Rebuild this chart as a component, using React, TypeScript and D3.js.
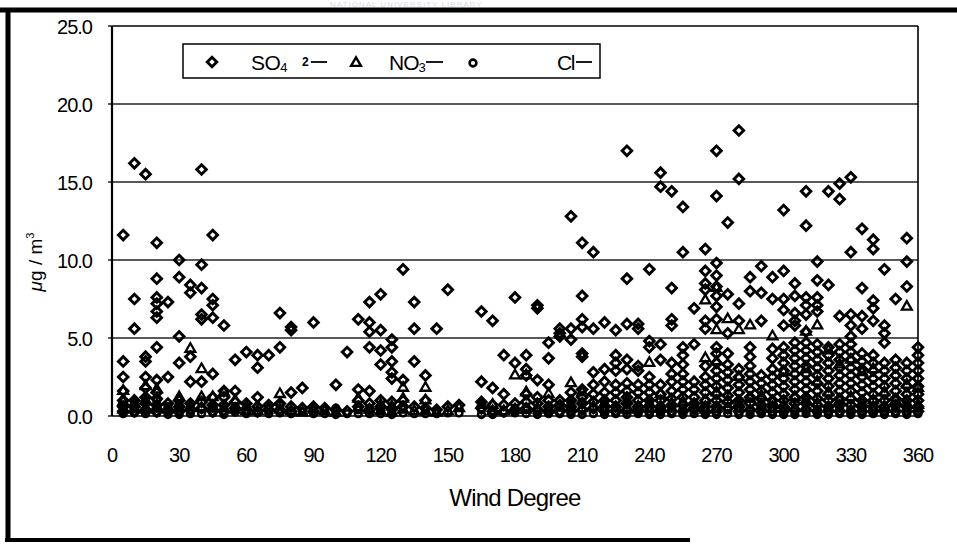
import React from 'react'
import * as d3 from 'd3'

// wind degree -> concentrations (ug/m3)
const so4Data: [number, number[]][] = [
    [5, [11.6, 3.5, 2.5, 1.6, 1.0, 0.6, 0.3]],
    [10, [16.2, 7.5, 5.6, 1.0, 0.6, 0.3]],
    [15, [15.5, 3.8, 3.5, 2.5, 1.8, 1.2, 0.8, 0.4]],
    [20, [11.1, 8.8, 7.6, 7.2, 6.7, 6.3, 4.4, 2.3, 1.5, 1.1, 0.7, 0.3]],
    [25, [7.3, 2.5, 0.8, 0.4]],
    [30, [10.0, 8.9, 5.1, 3.4, 1.0, 0.6, 0.3]],
    [35, [8.4, 7.9, 3.8, 2.2, 0.8, 0.4]],
    [40, [15.8, 9.7, 8.2, 6.5, 6.2, 2.2, 0.9, 0.5]],
    [45, [11.6, 7.5, 7.1, 6.3, 2.7, 1.2, 0.7, 0.3]],
    [50, [5.8, 1.6, 1.2, 0.7, 0.3]],
    [55, [3.6, 1.6, 0.9, 0.5]],
    [60, [4.1, 0.8, 0.4]],
    [65, [3.9, 3.1, 1.2, 0.6, 0.3]],
    [70, [3.9, 0.7, 0.4]],
    [75, [6.6, 4.4, 0.8, 0.4]],
    [80, [5.7, 5.5, 1.5, 0.6, 0.3]],
    [85, [1.8, 0.5]],
    [90, [6.0, 0.6, 0.3]],
    [95, [0.5]],
    [100, [2.0, 0.4]],
    [105, [4.1, 0.3]],
    [110, [6.2, 1.7, 1.0, 0.6]],
    [115, [7.3, 6.0, 5.4, 4.4, 1.6, 0.8, 0.4]],
    [120, [7.8, 5.5, 4.2, 3.3, 1.0, 0.6]],
    [125, [4.9, 4.4, 3.5, 2.8, 2.4, 0.9, 0.5]],
    [130, [9.4, 2.3, 1.0, 0.6]],
    [135, [7.3, 5.6, 3.5, 0.6]],
    [140, [2.6, 1.0, 0.5]],
    [145, [5.6, 0.4]],
    [150, [8.1, 0.6]],
    [155, [0.7]],
    [165, [6.7, 2.2, 0.9, 0.5]],
    [170, [6.1, 1.8, 0.7, 0.3]],
    [175, [3.9, 1.4, 0.7, 0.3]],
    [180, [7.6, 3.4, 0.8, 0.4]],
    [185, [3.9, 3.0, 2.6, 1.4, 0.9, 0.5]],
    [190, [7.1, 6.9, 2.3, 1.2, 0.8, 0.4]],
    [195, [4.7, 3.7, 2.0, 1.0, 0.6, 0.3]],
    [200, [5.6, 5.3, 5.1, 1.0, 0.7, 0.3]],
    [205, [12.8, 5.6, 4.9, 1.5, 1.0, 0.6, 0.3]],
    [210, [11.1, 7.7, 6.2, 5.7, 4.0, 3.8, 1.7, 1.2, 0.8, 0.4]],
    [215, [10.5, 5.6, 2.8, 2.0, 1.4, 0.9, 0.5]],
    [220, [6.0, 3.0, 2.2, 1.5, 1.0, 0.6, 0.3]],
    [225, [5.5, 3.9, 3.4, 2.9, 2.0, 1.5, 1.0, 0.6, 0.3]],
    [230, [17.0, 8.8, 5.9, 3.6, 3.0, 2.1, 1.6, 1.2, 0.8, 0.4]],
    [235, [5.9, 5.6, 3.2, 2.9, 2.0, 1.5, 1.0, 0.6, 0.3]],
    [240, [9.4, 4.8, 4.4, 2.5, 2.0, 1.5, 1.0, 0.6, 0.3]],
    [245, [15.6, 14.7, 4.6, 3.6, 2.0, 1.4, 1.0, 0.6, 0.3]],
    [250, [14.4, 8.2, 6.2, 5.8, 3.4, 2.7, 2.2, 1.6, 1.1, 0.7, 0.3]],
    [255, [13.4, 10.5, 4.4, 3.9, 3.3, 2.7, 2.2, 1.7, 1.2, 0.7, 0.3]],
    [260, [6.9, 4.6, 2.2, 1.7, 1.2, 0.8, 0.4]],
    [265, [10.7, 9.3, 8.5, 8.1, 6.1, 5.6, 3.2, 2.5, 2.0, 1.5, 1.0, 0.6, 0.3]],
    [270, [17.0, 14.1, 9.8, 9.0, 8.3, 7.7, 7.0, 6.2, 4.4, 4.0, 3.4, 2.9, 2.4, 1.9, 1.4, 1.0, 0.6, 0.3]],
    [275, [12.4, 7.8, 5.3, 4.0, 3.3, 2.8, 2.3, 1.8, 1.3, 0.9, 0.5]],
    [280, [18.3, 15.2, 7.2, 6.1, 3.0, 2.5, 2.0, 1.5, 1.0, 0.6, 0.3]],
    [285, [8.9, 8.0, 4.4, 3.8, 3.2, 2.7, 2.2, 1.7, 1.2, 0.8, 0.4]],
    [290, [9.6, 7.9, 6.1, 2.6, 2.1, 1.6, 1.1, 0.7, 0.3]],
    [295, [8.9, 7.5, 4.3, 3.7, 3.0, 2.5, 2.0, 1.5, 1.0, 0.6, 0.3]],
    [300, [13.2, 9.3, 7.5, 6.8, 5.8, 4.4, 3.9, 3.4, 2.9, 2.4, 1.9, 1.4, 1.0, 0.6, 0.3]],
    [305, [8.5, 7.7, 6.6, 6.1, 5.8, 4.7, 4.2, 3.7, 3.2, 2.7, 2.2, 1.7, 1.2, 0.8, 0.4]],
    [310, [14.4, 12.2, 7.6, 7.1, 6.5, 5.4, 4.7, 4.2, 3.7, 3.2, 2.7, 2.2, 1.7, 1.2, 0.8, 0.4]],
    [315, [9.9, 8.7, 7.6, 7.1, 6.7, 4.6, 4.1, 3.6, 3.1, 2.6, 2.1, 1.6, 1.1, 0.7, 0.3]],
    [320, [14.4, 8.4, 4.4, 3.9, 3.4, 2.9, 2.4, 1.9, 1.4, 1.0, 0.6, 0.3]],
    [325, [14.9, 13.9, 6.4, 4.6, 4.1, 3.6, 3.1, 2.6, 2.1, 1.6, 1.1, 0.7, 0.3]],
    [330, [15.3, 10.5, 6.5, 5.8, 5.1, 4.6, 4.1, 3.6, 3.1, 2.6, 2.1, 1.6, 1.1, 0.7, 0.3]],
    [335, [12.0, 8.2, 6.4, 5.6, 4.0, 3.5, 3.0, 2.5, 2.0, 1.5, 1.0, 0.6, 0.3]],
    [340, [11.3, 10.7, 7.4, 6.9, 6.1, 3.9, 3.4, 2.9, 2.4, 1.9, 1.4, 1.0, 0.6, 0.3]],
    [345, [9.4, 5.8, 5.3, 4.7, 3.4, 2.9, 2.4, 1.9, 1.4, 1.0, 0.6, 0.3]],
    [350, [7.5, 3.6, 3.1, 2.6, 2.1, 1.6, 1.1, 0.7, 0.3]],
    [355, [11.4, 9.9, 8.3, 3.4, 2.9, 2.4, 1.9, 1.4, 1.0, 0.6, 0.3]],
    [360, [4.4, 3.9, 3.4, 2.9, 2.4, 1.9, 1.4, 1.0, 0.6, 0.3]],
]

const no3Data: [number, number[]][] = [
    [5, [1.6, 0.9, 0.4]], [10, [0.8]], [15, [1.9, 1.0, 0.4]], [20, [1.7, 0.6]],
    [25, [0.4]], [30, [1.2, 0.5]], [35, [4.3, 0.6]], [40, [3.0, 1.2, 0.5]],
    [45, [1.2, 0.6]], [50, [1.5, 0.5]], [55, [1.0, 0.4]], [60, [0.6, 0.3]],
    [65, [0.3]], [70, [0.5]], [75, [1.4, 0.4]], [80, [0.3]], [85, [0.2]],
    [90, [0.4]], [95, [0.3]], [100, [0.2]], [110, [1.1, 0.5]], [115, [0.4]],
    [120, [0.7, 0.3]], [125, [0.6, 0.2]], [130, [1.8, 1.1, 0.4]], [135, [0.3]],
    [140, [1.8, 1.0, 0.3]], [145, [0.2]], [150, [0.3]], [155, [0.5]],
    [165, [0.7]], [170, [0.7, 0.3]], [175, [0.3]], [180, [2.6, 0.4]],
    [185, [2.6, 1.5, 0.4]], [190, [0.5]], [195, [1.4, 0.4]], [200, [0.6]],
    [205, [2.1, 0.5]], [210, [1.5, 0.5]], [215, [0.6]], [220, [0.8]],
    [225, [0.5]], [230, [1.0, 0.4]], [235, [0.6]], [240, [3.4, 0.8]],
    [245, [1.4, 0.6]], [250, [0.8]], [255, [0.9]], [260, [0.7]],
    [265, [7.4, 3.7, 1.0, 0.4]], [270, [8.2, 5.5, 3.5, 1.5, 0.5]],
    [275, [6.2, 1.0]], [280, [5.5, 2.5, 0.8]], [285, [5.8, 1.1]], [290, [1.3, 0.6]],
    [295, [5.1, 0.9]], [300, [2.8, 0.7]], [305, [1.2, 0.5]], [310, [5.4, 3.0, 1.0]],
    [315, [5.8, 2.2, 0.8]], [320, [4.2, 1.5, 0.5]], [325, [3.3, 1.0]],
    [330, [3.6, 1.2]], [335, [2.8, 0.8]], [340, [3.0, 1.0]], [345, [1.5, 0.6]],
    [350, [1.0]], [355, [7.0, 2.0, 0.8]], [360, [1.8, 0.7]],
]

const clData: [number, number[]][] = [
    [5, [0.7, 0.4, 0.15]], [10, [0.5, 0.2]], [15, [0.8, 0.4, 0.15]], [20, [1.0, 0.5, 0.2]],
    [25, [0.6, 0.3, 0.1]], [30, [0.7, 0.3, 0.1]], [35, [0.4, 0.15]], [40, [0.5, 0.15]],
    [45, [0.5, 0.2]], [50, [0.3, 0.1]], [55, [0.6, 0.25]], [60, [0.15]], [65, [0.2]],
    [70, [0.15]], [75, [0.7, 0.2]], [80, [0.15]], [85, [0.3]], [90, [0.15]],
    [95, [0.5, 0.15]], [100, [0.5, 0.1]], [105, [0.15]], [110, [0.4, 0.15]],
    [115, [0.5, 0.15]], [120, [0.4, 0.15]], [125, [0.3, 0.1]], [130, [0.6, 0.2]],
    [135, [0.15]], [140, [0.15]], [145, [0.15]], [150, [0.2]], [155, [0.2]],
    [165, [0.4, 0.1]], [170, [0.3, 0.1]], [175, [0.2]], [180, [0.5, 0.2]],
    [185, [0.15]], [190, [0.3, 0.1]], [195, [0.6, 0.15]], [200, [0.15]],
    [205, [0.8, 0.3, 0.1]], [210, [0.9, 0.4, 0.1]], [215, [0.5, 0.15]], [220, [0.4, 0.1]],
    [225, [0.6, 0.15]], [230, [0.5, 0.1]], [235, [0.4, 0.15]], [240, [0.5, 0.1]],
    [245, [0.4, 0.1]], [250, [0.5, 0.15]], [255, [0.4, 0.1]], [260, [0.5, 0.15]],
    [265, [0.4, 0.1]], [270, [0.5, 0.1]], [275, [0.4, 0.15]], [280, [0.5, 0.1]],
    [285, [0.3, 0.1]], [290, [0.4, 0.15]], [295, [0.5, 0.1]], [300, [0.4, 0.1]],
    [305, [0.3, 0.1]], [310, [0.5, 0.15]], [315, [0.4, 0.1]], [320, [0.3, 0.1]],
    [325, [0.5, 0.15]], [330, [0.4, 0.1]], [335, [0.3, 0.1]], [340, [0.4, 0.15]],
    [345, [0.3, 0.1]], [350, [0.5, 0.15]], [355, [0.3, 0.1]], [360, [0.5, 0.15]],
]

const xTicks = [0, 30, 60, 90, 120, 150, 180, 210, 240, 270, 300, 330, 360]
const yTicks = [0, 5, 10, 15, 20, 25]

const flat = (rows: [number, number[]][]) =>
    rows.flatMap(([deg, vals]) => vals.map(v => ({ deg, v })))

const W = 957
const H = 545
const plot = { left: 112, right: 918, top: 26, bottom: 416 }
const font = '"Liberation Sans", Arial, sans-serif'

const App = () => {
    const x = d3.scaleLinear().domain([0, 360]).range([plot.left, plot.right])
    const y = d3.scaleLinear().domain([0, 25]).range([plot.bottom, plot.top])

    const diamond = d3.symbol(d3.symbolSquare, 46)()
    const triangle = d3.symbol(d3.symbolTriangle, 42)()
    const circle = d3.symbol(d3.symbolCircle, 36)()

    const so4 = flat(so4Data)
    const no3 = flat(no3Data)
    const cl = flat(clData)

    return (
        <div style={{ position: 'absolute', left: 0, top: 0 }}>
            <svg width={W} height={H} style={{ display: 'block', background: '#fff' }}>
                {/* library stamp left on the scan */}
                <text x={330} y={7} fontFamily={font} fontSize={8} fill="#d6dcea" letterSpacing={1}>
                    NATIONAL UNIVERSITY LIBRARY
                </text>
                {/* outer frame from the scan */}
                <line x1={0} x2={W} y1={10} y2={10} stroke="#000" strokeWidth={5} />
                <line x1={8} x2={8} y1={8} y2={541} stroke="#000" strokeWidth={5} />
                <line x1={5} x2={690} y1={540} y2={540} stroke="#000" strokeWidth={4} />

                {/* gridlines */}
                {yTicks.filter(t => t > 0 && t < 25).map(t => (
                    <line key={t} x1={plot.left} x2={plot.right} y1={y(t)} y2={y(t)}
                        stroke="#222" strokeWidth={1.3} />
                ))}
                {/* plot frame */}
                <line x1={plot.left} x2={plot.right} y1={plot.top} y2={plot.top} stroke="#000" strokeWidth={1.6} />
                <line x1={plot.right} x2={plot.right} y1={plot.top} y2={plot.bottom} stroke="#000" strokeWidth={1.6} />
                <line x1={plot.left} x2={plot.right} y1={plot.bottom} y2={plot.bottom} stroke="#000" strokeWidth={1.3} />
                <line x1={plot.left} x2={plot.left} y1={plot.top} y2={plot.bottom} stroke="#000" strokeWidth={2.2} />
                {yTicks.map(t => (
                    <line key={t} x1={plot.left - 4} x2={plot.left} y1={y(t)} y2={y(t)} stroke="#000" strokeWidth={1.3} />
                ))}

                {/* y tick labels */}
                {yTicks.map(t => (
                    <text key={t} x={92} y={y(t)} dy="0.38em" textAnchor="end"
                        fontFamily={font} fontSize={20} letterSpacing={-1}>
                        {d3.format('.1f')(t)}
                    </text>
                ))}
                {/* x tick labels */}
                {xTicks.map(t => (
                    <text key={t} x={x(t)} y={462} textAnchor="middle"
                        fontFamily={font} fontSize={20} letterSpacing={-1}>
                        {t}
                    </text>
                ))}
                <text x={515} y={506} textAnchor="middle" fontFamily={font} fontSize={24} letterSpacing={-0.8}>
                    Wind Degree
                </text>
                <text transform="translate(42,262) rotate(-90)" textAnchor="middle" fontFamily={font} fontSize={19}>
                    <tspan fontStyle="italic">μ</tspan>g / m<tspan fontSize={11} dy={-8}>3</tspan>
                </text>

                {/* points */}
                <g fill="none" stroke="#000">
                    {so4.map((d, i) => (
                        <path key={'s' + i} d={diamond!} strokeWidth={2.9}
                            transform={`translate(${x(d.deg)},${y(d.v)}) rotate(45)`} />
                    ))}
                    {no3.map((d, i) => (
                        <path key={'n' + i} d={triangle!} strokeWidth={2.3}
                            transform={`translate(${x(d.deg)},${y(d.v)})`} />
                    ))}
                    {cl.map((d, i) => (
                        <path key={'c' + i} d={circle!} strokeWidth={2.6}
                            transform={`translate(${x(d.deg)},${y(d.v)})`} />
                    ))}
                </g>

                {/* legend */}
                <rect x={183} y={44} width={417} height={34} fill="#fff" stroke="#000" strokeWidth={1.5} />
                <path d={diamond!} fill="none" stroke="#000" strokeWidth={2.9} transform="translate(212,62) rotate(45)" />
                <text x={251} y={70} fontFamily={font} fontSize={21} letterSpacing={-0.5}>
                    SO<tspan fontSize={13} dy={2}>4</tspan>
                </text>
                <text x={302} y={66} fontFamily={font} fontSize={12} fontWeight="bold">2</text>
                <line x1={311} x2={327} y1={62} y2={62} stroke="#000" strokeWidth={1.8} />
                <path d={triangle!} fill="none" stroke="#000" strokeWidth={2.4} transform="translate(356,63)" />
                <text x={389} y={70} fontFamily={font} fontSize={21} letterSpacing={-1}>
                    NO<tspan fontSize={13} dy={2}>3</tspan>
                </text>
                <line x1={426} x2={443} y1={62} y2={62} stroke="#000" strokeWidth={1.8} />
                <path d={circle!} fill="none" stroke="#000" strokeWidth={2.6} transform="translate(473,63)" />
                <text x={557} y={70} fontFamily={font} fontSize={21} letterSpacing={-1.5}>Cl</text>
                <line x1={576} x2={592} y1={62} y2={62} stroke="#000" strokeWidth={1.8} />
            </svg>
        </div>
    )
}

export default App
